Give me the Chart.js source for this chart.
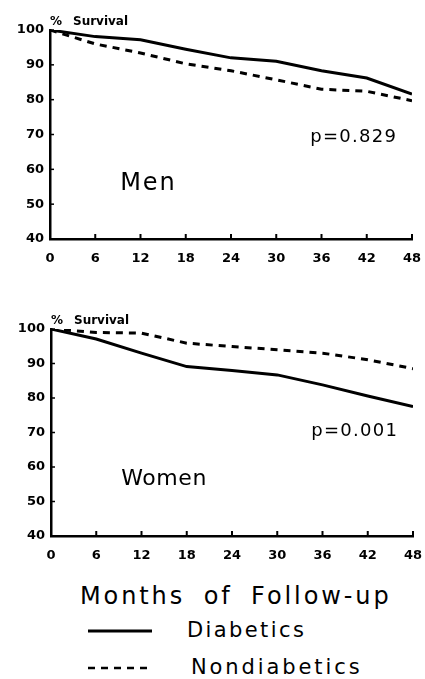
<!DOCTYPE html>
<html>
<head>
<meta charset="utf-8">
<script src="https://cdn.jsdelivr.net/npm/chart.js@4.4.0/dist/chart.umd.min.js"></script>
<style>
  body { margin: 0; background: #fff; width: 425px; height: 679px; position: relative; overflow: hidden; }
  .box { position: absolute; left: 0; }
  .txt { position: absolute; font-family: "DejaVu Sans", sans-serif; color: #000; white-space: nowrap; }
</style>
</head>
<body>
<div class="box" style="top:0"><canvas id="menChart" width="425" height="285"></canvas></div>
<div class="box" style="top:290px"><canvas id="womenChart" width="425" height="285"></canvas></div>

<div class="txt" style="left:80px; top:582px; font-size:24px; letter-spacing:2.9px; word-spacing:8px;">Months of Follow-up</div>
<svg style="position:absolute; left:86px; top:622px" width="70" height="60">
  <line x1="2" y1="9" x2="66" y2="9" stroke="#000" stroke-width="3"/>
  <line x1="2" y1="46" x2="66" y2="46" stroke="#000" stroke-width="2.5" stroke-dasharray="7,6"/>
</svg>
<div class="txt" style="left:187px; top:618px; font-size:21px; letter-spacing:2.4px;">Diabetics</div>
<div class="txt" style="left:191px; top:655px; font-size:21px; letter-spacing:2.9px;">Nondiabetics</div>

<script>
// Monate / Werte
const months = [0, 6, 12, 18, 24, 30, 36, 42, 48];
const xTicks = [0, 6, 12, 18, 24, 30, 36, 42, 48];
const yTicks = [40, 50, 60, 70, 80, 90, 100];

const menDiabetics    = [100, 98.1, 97.2, 94.5, 92.0, 91.0, 88.3, 86.2, 81.6];
const menNondiabetics = [100, 96.0, 93.4, 90.3, 88.3, 85.7, 83.0, 82.4, 79.7];

const womenDiabetics    = [100, 97.1, 93.0, 89.1, 88.0, 86.7, 83.8, 80.6, 77.5];
const womenNondiabetics = [100, 99.0, 98.8, 95.9, 94.9, 94.0, 93.0, 91.1, 88.5];

function pts(values) {
    return months.map(function (m, i) { return { x: m, y: values[i] }; });
}

// Plugin fuer Beschriftungen und kleine Striche an den Achsen
const notesPlugin = {
    id: 'notes',
    afterDraw: function (chart, args, opts) {
        const ctx = chart.ctx;
        const xs = chart.scales.x, ys = chart.scales.y;
        ctx.save();
        // Striche nach innen
        ctx.strokeStyle = '#000';
        ctx.lineWidth = 2;
        xTicks.forEach(function (t) {
            const px = xs.getPixelForValue(t);
            ctx.beginPath();
            ctx.moveTo(px, ys.bottom);
            ctx.lineTo(px, ys.bottom - 5);
            ctx.stroke();
        });
        ctx.lineWidth = 1.5;
        yTicks.forEach(function (t) {
            const py = ys.getPixelForValue(t);
            ctx.beginPath();
            ctx.moveTo(xs.left, py);
            ctx.lineTo(xs.left + 4, py);
            ctx.stroke();
        });
        ctx.fillStyle = '#000';
        ctx.textBaseline = 'middle';
        ctx.font = 'bold 12px "DejaVu Sans"';
        ctx.fillText('%', chart.chartArea.left, chart.chartArea.top - 8);
        ctx.fillText('Survival', chart.chartArea.left + 23, chart.chartArea.top - 8);
        (opts.items || []).forEach(function (it) {
            ctx.font = it.font;
            ctx.letterSpacing = it.spacing || '0px';
            ctx.fillText(it.text, xs.getPixelForValue(it.x), ys.getPixelForValue(it.y));
        });
        ctx.restore();
    }
};

function makeChart(id, dia, nondia, pad, items) {
    const ctx = document.getElementById(id).getContext('2d');
    return new Chart(ctx, {
        type: 'line',
        data: {
            datasets: [{
                label: 'Diabetics',
                data: pts(dia),
                borderColor: '#000',
                borderWidth: 3,
                pointRadius: 0,
                tension: 0,
                fill: false
            }, {
                label: 'Nondiabetics',
                data: pts(nondia),
                borderColor: '#000',
                borderWidth: 3,
                borderDash: [7, 6],
                pointRadius: 0,
                tension: 0,
                fill: false
            }]
        },
        options: {
            responsive: false,
            animation: false,
            layout: { padding: pad },
            plugins: {
                legend: { display: false },
                tooltip: { enabled: false },
                notes: { items: items }
            },
            scales: {
                x: {
                    type: 'linear',
                    min: 0,
                    max: 48,
                    afterBuildTicks: function (s) { s.ticks = xTicks.map(function (v) { return { value: v }; }); },
                    afterFit: function (s) { s.height = 30; s.paddingLeft = 0; s.paddingRight = 0; },
                    grid: { display: false, drawTicks: false },
                    border: { display: true, color: '#000', width: 2.5 },
                    ticks: {
                        color: '#000',
                        padding: 12,
                        maxRotation: 0,
                        autoSkip: false,
                        font: { family: 'DejaVu Sans', size: 13, weight: 'bold' }
                    }
                },
                y: {
                    min: 40,
                    max: 100,
                    afterBuildTicks: function (s) { s.ticks = yTicks.map(function (v) { return { value: v }; }); },
                    afterFit: function (s) { s.width = 50; s.paddingTop = 0; s.paddingBottom = 0; },
                    grid: { display: false, drawTicks: false },
                    border: { display: true, color: '#000', width: 2.5 },
                    ticks: {
                        color: '#000',
                        padding: 6,
                        autoSkip: false,
                        font: { family: 'DejaVu Sans', size: 13, weight: 'bold' }
                    }
                }
            }
        },
        plugins: [notesPlugin]
    });
}

makeChart('menChart', menDiabetics, menNondiabetics,
    { left: 0, top: 30, right: 13, bottom: 16 },
    [{ text: 'p=0.829', x: 34.5, y: 69.3, font: '18px "DejaVu Sans"', spacing: '1.3px' },
     { text: 'Men', x: 9.3, y: 56, font: '24px "DejaVu Sans"', spacing: '2px' }]);

makeChart('womenChart', womenDiabetics, womenNondiabetics,
    { left: 1, top: 39, right: 12, bottom: 9 },
    [{ text: 'p=0.001', x: 34.5, y: 70.2, font: '18px "DejaVu Sans"', spacing: '1.3px' },
     { text: 'Women', x: 9.3, y: 56.5, font: '22px "DejaVu Sans"', spacing: '0.6px' }]);
</script>
</body>
</html>
